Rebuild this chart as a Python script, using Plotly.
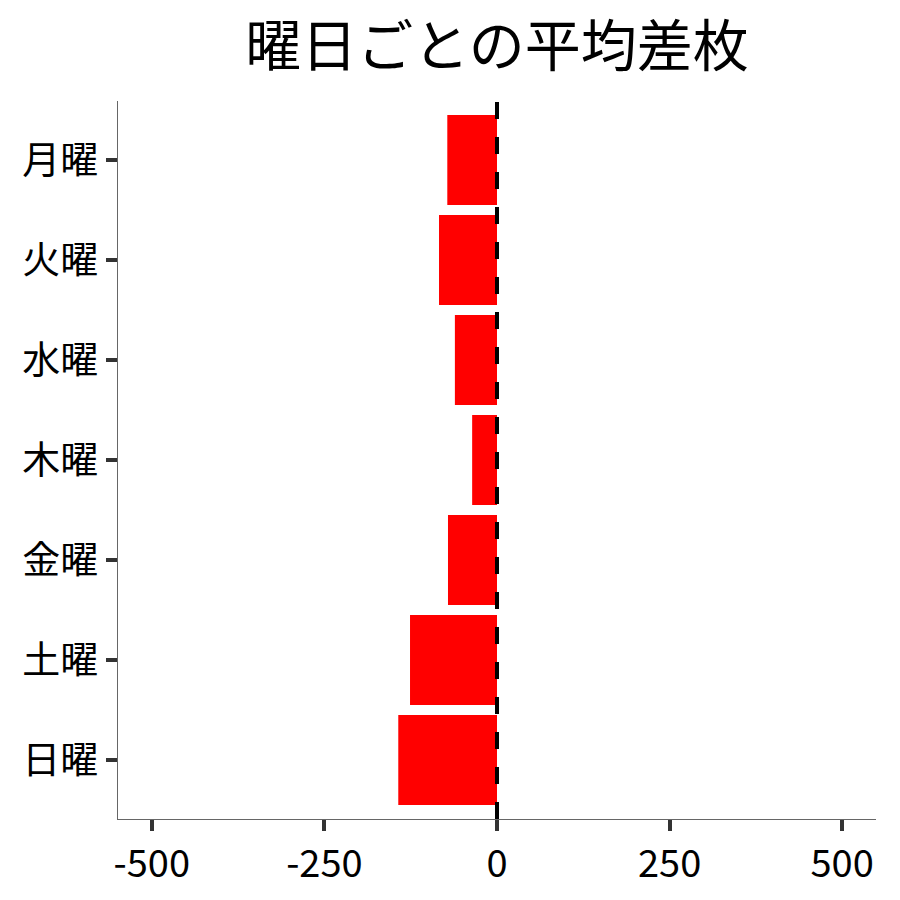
import plotly.graph_objects as go

days = ["月曜", "火曜", "水曜", "木曜", "金曜", "土曜", "日曜"]
avg_diff = [-72, -84, -61, -36, -71, -126, -143]
x_ticks = [-500, -250, 0, 250, 500]
x_tick_labels = ["-500", "-250", "0", "250", "500"]
title_text = "曜日ごとの平均差枚"

FONT = "Noto Sans CJK JP"

fig = go.Figure()
fig.add_trace(go.Bar(
    x=avg_diff, y=days, orientation="h",
    marker=dict(color="#ff0000", line=dict(width=0)),
    width=0.9, showlegend=False,
))
fig.add_shape(type="line", xref="x", yref="paper", x0=0, x1=0, y0=0, y1=1,
              line=dict(color="black", width=4, dash="17px,18px"))

fig.update_layout(
    width=900, height=900,
    margin=dict(l=110, r=32, t=93, b=89, pad=0),
    paper_bgcolor="white", plot_bgcolor="white",
    font=dict(family=FONT, color="black"),
    title=dict(text=title_text, x=489 / 900, xanchor="center",
               y=1 - 38 / 900, yanchor="middle",
               font=dict(family=FONT, size=56, color="black")),
    bargap=0.1,
)
fig.update_xaxes(
    range=[-549, 549], tickvals=x_ticks, ticktext=x_tick_labels,
    showgrid=False, zeroline=False,
    showline=True, linecolor="#666666", linewidth=1.2,
    ticks="outside", ticklen=11, tickwidth=4, tickcolor="#333333",
    tickfont=dict(family=FONT, size=38, color="black"),
)
fig.update_yaxes(
    categoryorder="array", categoryarray=days, autorange=False,
    range=[6.59, -0.59],
    showgrid=False, zeroline=False,
    showline=True, linecolor="#666666", linewidth=1.2,
    ticks="outside", ticklen=11, tickwidth=4, tickcolor="#333333",
    tickfont=dict(family=FONT, size=38, color="black"),
)
fig.write_html("out.html")
